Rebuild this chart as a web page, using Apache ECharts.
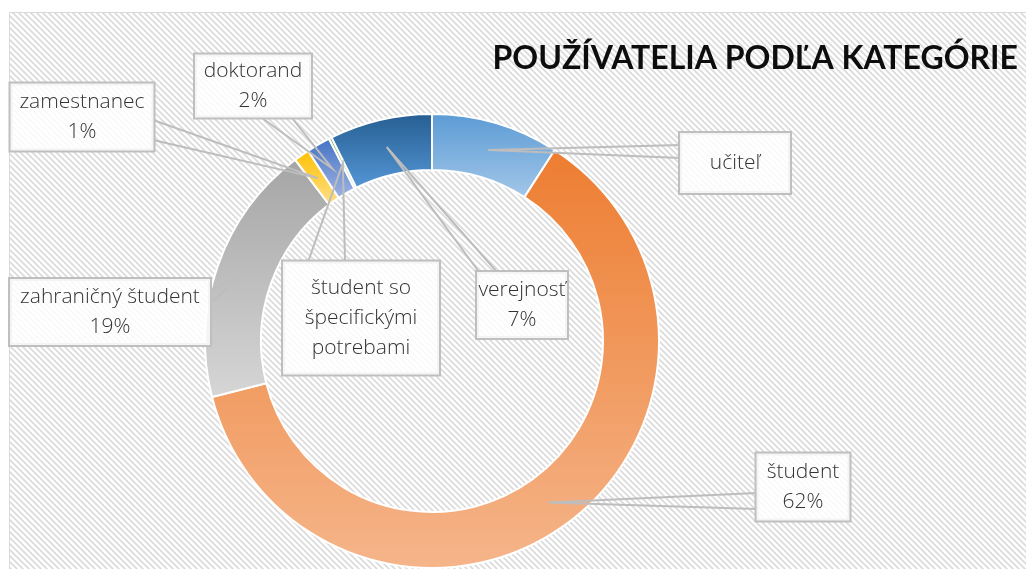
<!DOCTYPE html>
<html><head><meta charset="utf-8">
<script src="https://cdn.jsdelivr.net/npm/echarts@6/dist/echarts.min.js"></script>
<style>html,body{margin:0;padding:0;background:#fff}#c{width:1026px;height:569px}</style>
</head><body><div id="c"></div>
<script>
// ---- data ----
const categories = ['učiteľ', 'študent', 'zahraničný študent', 'zamestnanec', 'doktorand', 'študent so špecifickými potrebami', 'verejnosť'];
const values = [9.1, 62.0, 18.7, 1.1, 1.7, 0.2, 7.3];
const labelNames = ['učiteľ', 'študent', 'zahraničný študent', 'zamestnanec', 'doktorand', 'študent so\nšpecifickými\npotrebami', 'verejnosť'];
const showPercent = [false, true, true, true, true, false, true];
const titleText = 'POUŽÍVATELIA PODĽA KATEGÓRIE';

// ---- styles / layout ----
const colorTop = ['#5b9bd5', '#ed7d31', '#a5a5a5', '#ffc000', '#4472c4', '#70ad47', '#255e91'];
const colorBottom = ['#a3c7e8', '#f5b58a', '#d6d6d6', '#ffe08c', '#9fb4e3', '#a9d18e', '#5596d6'];
const CENTER = [432, 341];
const R_IN = 171, R_OUT = 227;
const labelBoxes = [
  {cx: 735, cy: 163, w: 110, h: 60, a: [681, 145], b: [681, 158]},
  {cx: 803, cy: 487, w: 93, h: 67, a: [757, 493], b: [757, 509]},
  {cx: 110, cy: 312, w: 200, h: 66, a: [210, 290], b: [210, 303]},
  {cx: 82, cy: 117, w: 143, h: 67, a: [153, 120], b: [153, 140]},
  {cx: 253, cy: 86, w: 116, h: 63, a: [262, 118], b: [292, 118]},
  {cx: 361, cy: 318, w: 156, h: 113, a: [308, 262], b: [345, 262]},
  {cx: 522, cy: 305, w: 90, h: 66, a: [479, 272], b: [497, 272]}
];
const LH = 30;

// hatch pattern
const pc = document.createElement('canvas');
pc.width = 6; pc.height = 6;
const g = pc.getContext('2d');
g.fillStyle = '#ffffff'; g.fillRect(0, 0, 6, 6);
g.strokeStyle = '#dadada'; g.lineWidth = 1.6;
g.beginPath();
g.moveTo(-1, -1); g.lineTo(7, 7);
g.moveTo(-1, 5); g.lineTo(1, 7);
g.moveTo(5, -1); g.lineTo(7, 1);
g.stroke();

const ringData = categories.map((name, i) => ({
  name: name,
  value: values[i],
  itemStyle: {
    color: {type: 'linear', x: 0, y: 0, x2: 0, y2: 1,
      colorStops: [{offset: 0, color: colorTop[i]}, {offset: 1, color: colorBottom[i]}]}
  }
}));

const labelData = categories.map((name, i) => {
  const lines = labelNames[i].split('\n').length + (showPercent[i] ? 1 : 0);
  const box = labelBoxes[i];
  const vpad = (box.h - lines * LH) / 2;
  return {
    name: name,
    value: values[i],
    label: {width: box.w, padding: [vpad, 0, vpad, 0]}
  };
});

const chart = echarts.init(document.getElementById('c'), null, {renderer: 'canvas'});
chart.setOption({
  animation: false,
  graphic: [{
    type: 'rect', z: -10, silent: true,
    shape: {x: 9.5, y: 12.5, width: 1030, height: 580},
    style: {fill: {image: pc, repeat: 'repeat'}, stroke: '#d9d9d9', lineWidth: 1}
  }],
  title: {
    text: titleText, right: 3, top: 38,
    textStyle: {fontFamily: 'Lato', fontWeight: 'bold', fontSize: 32, color: '#0d0d0d'}
  },
  series: [{
    type: 'pie',
    z: 2,
    center: CENTER,
    radius: [R_IN, R_OUT],
    startAngle: 90,
    clockwise: true,
    silent: true,
    itemStyle: {borderColor: '#ffffff', borderWidth: 2},
    label: {show: false},
    labelLine: {show: false},
    emphasis: {disabled: true},
    data: ringData
  }, {
    type: 'pie',
    z: 5,
    center: CENTER,
    radius: [R_IN, R_OUT],
    startAngle: 90,
    clockwise: true,
    silent: true,
    avoidLabelOverlap: false,
    minShowLabelAngle: 0,
    itemStyle: {color: 'rgba(0,0,0,0)', borderWidth: 0},
    label: {
      show: true, position: 'outside', alignTo: 'none', overflow: 'none',
      formatter: p => labelNames[p.dataIndex] + (showPercent[p.dataIndex] ? '\n' + Math.round(p.percent) + '%' : ''),
      fontFamily: 'Open Sans', fontWeight: 300, fontSize: 21, lineHeight: LH, color: '#333333',
      align: 'center',
      backgroundColor: 'rgba(255,255,255,0.82)', borderColor: '#bfbfbf', borderWidth: 2
    },
    labelLine: {show: true, length: 10, length2: 10, smooth: false,
      lineStyle: {color: '#bdbdbd', width: 2}},
    labelLayout: function (params) {
      const i = params.dataIndex;
      const box = labelBoxes[i];
      const p0 = params.labelLinePoints && params.labelLinePoints[0];
      const res = {x: box.cx, y: box.cy, align: 'center', verticalAlign: 'middle'};
      if (p0) {
        const dx = p0[0] - CENTER[0], dy = p0[1] - CENTER[1];
        const len = Math.sqrt(dx * dx + dy * dy) || 1;
        const rm = (R_IN + R_OUT) / 2;
        const tip = [CENTER[0] + dx / len * rm, CENTER[1] + dy / len * rm];
        res.labelLinePoints = [box.a, tip, box.b];
      }
      return res;
    },
    emphasis: {disabled: true},
    data: labelData
  }]
});
</script>
</body></html>
